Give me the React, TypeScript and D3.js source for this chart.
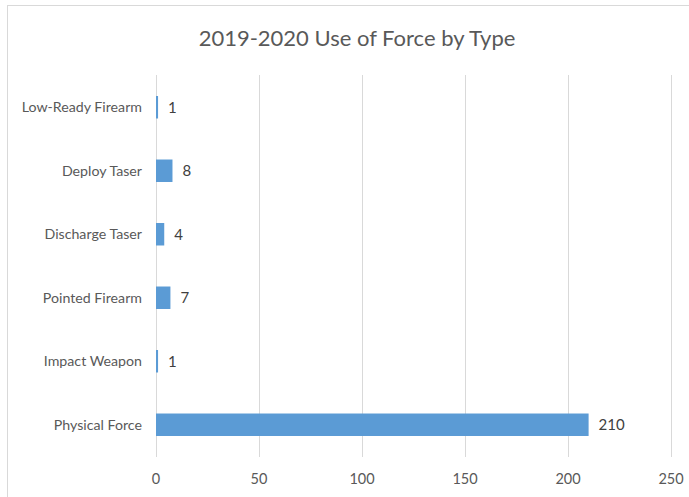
import React from "react";
import * as d3 from "d3";

const categories = ["Low-Ready Firearm", "Deploy Taser", "Discharge Taser", "Pointed Firearm", "Impact Weapon", "Physical Force"];
const values = [1, 8, 4, 7, 1, 210];
const ticks = [0, 50, 100, 150, 200, 250];
const title = "2019-2020 Use of Force by Type";

export default function App() {
  const W = 689, H = 497;
  const x = d3.scaleLinear().domain([0, 250]).range([156, 671]);
  const y = d3.scaleBand().domain(categories).range([75.5, 456.5]).paddingInner(0.646).paddingOuter(0.323);
  const font = "Lato, 'Liberation Sans', Arial, sans-serif";
  const textColor = "#595959";
  return (
    <svg width={W} height={H} style={{ position: "absolute", left: 0, top: 0, background: "#fff" }}>
      <rect x={7.5} y={5.5} width={720} height={520} fill="#fff" stroke="#d9d9d9" strokeWidth={1} />
      <text x={357} y={46} textAnchor="middle" fontFamily={font} fontSize={22} fill={textColor}>{title}</text>
      {ticks.map((t) => (
        <g key={t}>
          <line x1={Math.round(x(t)) + 0.5} x2={Math.round(x(t)) + 0.5} y1={75} y2={457} stroke="#d9d9d9" strokeWidth={1} />
          <text x={x(t)} y={484} textAnchor="middle" fontFamily={font} fontSize={14.5} fill={textColor}>{t}</text>
        </g>
      ))}
      {categories.map((c, i) => {
        const yy = y(c)!;
        const bh = y.bandwidth();
        return (
          <g key={c}>
            <rect x={x(0)} y={yy} width={x(values[i]) - x(0)} height={bh} fill="#5b9bd5" />
            <text x={142} y={yy + bh / 2 + 5} textAnchor="end" fontFamily={font} fontSize={14.2} fill={textColor}>{c}</text>
            <text x={x(values[i]) + 10} y={yy + bh / 2 + 5.5} textAnchor="start" fontFamily={font} fontSize={15} fill="#404040">{values[i]}</text>
          </g>
        );
      })}
    </svg>
  );
}
